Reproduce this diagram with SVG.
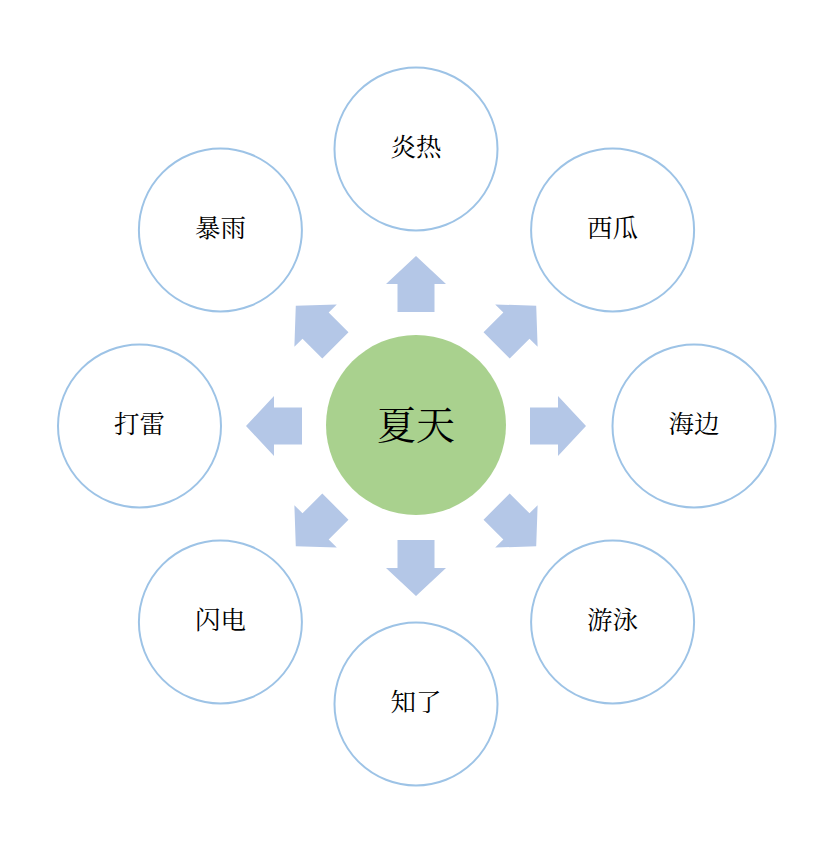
<svg xmlns="http://www.w3.org/2000/svg" xmlns:xlink="http://www.w3.org/1999/xlink" width="814" height="844" viewBox="0 0 814 844">
<style>
.outer{fill:#ffffff;stroke:#9dc3e6;stroke-width:2}
.center{fill:#a9d18e}
.arrow{fill:#b4c7e7}
text{font-family:"Liberation Serif","Noto Serif CJK SC","Noto Sans CJK SC",serif;fill:#000;text-anchor:middle}
.lbl{font-size:25.5px}
.big{font-size:39px}
</style>
<defs>
<path id="arr" class="arrow" d="M0,-170 L30,-142 L18.5,-142 L18.5,-114 L-18.5,-114 L-18.5,-142 L-30,-142 Z"/>
</defs>
<rect width="814" height="844" fill="#ffffff"/>
<g id="connectors">
<use xlink:href="#arr" href="#arr" transform="translate(416,426) rotate(0)"/>
<use xlink:href="#arr" href="#arr" transform="translate(416,426) rotate(45)"/>
<use xlink:href="#arr" href="#arr" transform="translate(416,426) rotate(90)"/>
<use xlink:href="#arr" href="#arr" transform="translate(416,426) rotate(135)"/>
<use xlink:href="#arr" href="#arr" transform="translate(416,426) rotate(180)"/>
<use xlink:href="#arr" href="#arr" transform="translate(416,426) rotate(225)"/>
<use xlink:href="#arr" href="#arr" transform="translate(416,426) rotate(270)"/>
<use xlink:href="#arr" href="#arr" transform="translate(416,426) rotate(315)"/>
</g>
<g id="summer">
<circle class="center" cx="416" cy="425" r="90"/>
<text class="big" x="416" y="439">夏天</text>
</g>
<g id="hot">
<circle class="outer" cx="416" cy="149" r="81.5"/>
<text class="lbl" x="416" y="156">炎热</text>
</g>
<g id="watermelon">
<circle class="outer" cx="612.6" cy="230" r="81.5"/>
<text class="lbl" x="612.6" y="237">西瓜</text>
</g>
<g id="beach">
<circle class="outer" cx="694" cy="426" r="81.5"/>
<text class="lbl" x="694" y="433">海边</text>
</g>
<g id="swim">
<circle class="outer" cx="612.6" cy="622" r="81.5"/>
<text class="lbl" x="612.6" y="629">游泳</text>
</g>
<g id="cicada">
<circle class="outer" cx="416" cy="704" r="81.5"/>
<text class="lbl" x="416" y="711">知了</text>
</g>
<g id="lightning">
<circle class="outer" cx="220.4" cy="622" r="81.5"/>
<text class="lbl" x="220.4" y="629">闪电</text>
</g>
<g id="thunder">
<circle class="outer" cx="139.5" cy="426" r="81.5"/>
<text class="lbl" x="139.5" y="433">打雷</text>
</g>
<g id="rainstorm">
<circle class="outer" cx="220.4" cy="230" r="81.5"/>
<text class="lbl" x="220.4" y="237">暴雨</text>
</g>
</svg>
